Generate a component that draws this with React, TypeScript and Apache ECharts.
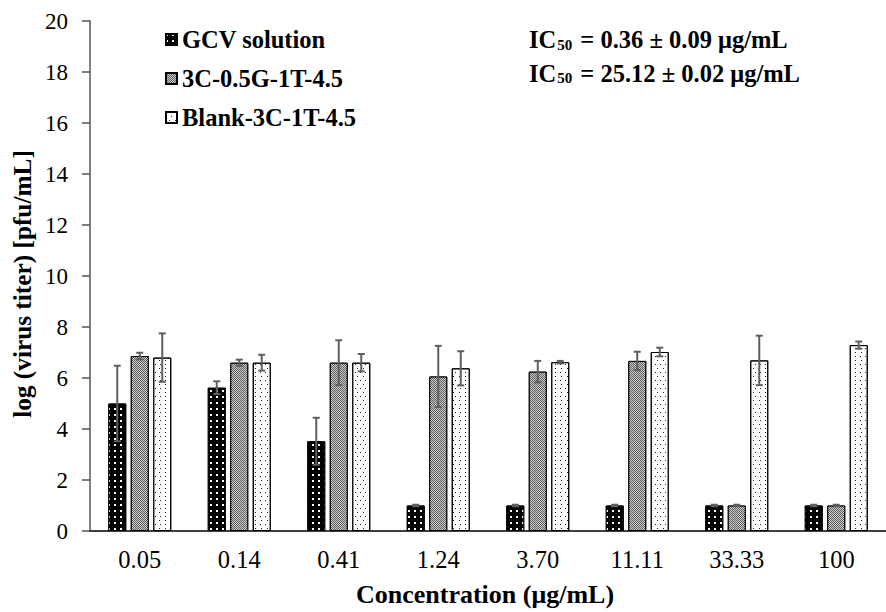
import React, { useEffect, useRef } from 'react';
import * as echarts from 'echarts';

const categories = ['0.05', '0.14', '0.41', '1.24', '3.70', '11.11', '33.33', '100'];
const seriesNames = ['GCV solution', '3C-0.5G-1T-4.5', 'Blank-3C-1T-4.5'];
const gcvValues = [5.0, 5.62, 3.52, 1.0, 1.0, 1.0, 1.0, 1.0];
const gcvErrors = [1.48, 0.25, 0.92, 0.03, 0.03, 0.03, 0.03, 0.03];
const cgValues = [6.86, 6.6, 6.6, 6.06, 6.25, 6.67, 1.0, 1.0];
const cgErrors = [0.13, 0.12, 0.88, 1.2, 0.42, 0.36, 0.03, 0.03];
const blankValues = [6.8, 6.6, 6.6, 6.38, 6.62, 7.02, 6.69, 7.29];
const blankErrors = [0.95, 0.31, 0.34, 0.67, 0.05, 0.17, 0.97, 0.14];
const ic50Lines = [
  { sub: '50', rest: ' = 0.36 ± 0.09 μg/mL' },
  { sub: '50', rest: ' = 25.12 ± 0.02 μg/mL' },
];
const xTitle = 'Concentration (μg/mL)';
const yTitle = 'log (virus titer) [pfu/mL]';

const FONT = "'Liberation Serif', 'Times New Roman', Times, serif";
const BAR_W = 18;
const BAR_GAP = 4.5;
const ERR_COLOR = '#5f5f5f';

const decals = [
  { symbol: 'rect', symbolSize: 1, color: '#ffffff', dashArrayX: [1.5, 3.5], dashArrayY: [1.5, 3.5] },
  { symbol: 'rect', symbolSize: 1, color: '#d0d0d0', dashArrayX: [[1, 1], [0, 1, 1, 0]], dashArrayY: [1, 0] },
  { symbol: 'rect', symbolSize: 1, color: '#222222', dashArrayX: [[1, 4], [0, 2.5, 1, 1.5]], dashArrayY: [1, 3] },
];
const fills = ['#000000', '#5a5a5a', '#ffffff'];
const allValues = [gcvValues, cgValues, blankValues];
const allErrors = [gcvErrors, cgErrors, blankErrors];

export default function App() {
  const ref = useRef<HTMLDivElement>(null);
  useEffect(() => {
    if (!ref.current) return;
    const chart = echarts.init(ref.current, null, { renderer: 'svg' });

    const barSeries = seriesNames.map((name, k) => ({
      name,
      type: 'bar',
      data: allValues[k],
      barWidth: BAR_W,
      barGap: '25%',
      itemStyle: {
        color: fills[k],
        borderColor: '#000',
        borderWidth: 1,
        decal: decals[k],
      },
      z: 2,
    }));

    const errSeries = seriesNames.map((_, k) => ({
      type: 'custom',
      silent: true,
      z: 10,
      encode: { x: 0, y: 1 },
      data: allValues[k].map((v, i) => [i, v, allErrors[k][i]]),
      renderItem: (params: any, api: any) => {
        const i = api.value(0);
        const v = api.value(1);
        const e = api.value(2);
        const top = api.coord([i, v + e]);
        const bot = api.coord([i, v - e]);
        const x = top[0] + (k - 1) * (BAR_W + BAR_GAP);
        const cap = 3.5;
        const st = { stroke: ERR_COLOR, lineWidth: 2 };
        return {
          type: 'group',
          children: [
            { type: 'line', shape: { x1: x, y1: top[1], x2: x, y2: bot[1] }, style: st },
            { type: 'line', shape: { x1: x - cap, y1: top[1], x2: x + cap, y2: top[1] }, style: st },
            { type: 'line', shape: { x1: x - cap, y1: bot[1], x2: x + cap, y2: bot[1] }, style: st },
          ],
        };
      },
    }));

    const rich = {
      a: { fontFamily: FONT, fontSize: 24.5, fontWeight: 'bold', color: '#000' },
      b: { fontFamily: FONT, fontSize: 15, fontWeight: 'bold', color: '#000', verticalAlign: 'bottom', padding: [0, 2, 0, 1] },
    };

    chart.setOption({
      animation: false,
      backgroundColor: '#ffffff',
      textStyle: { fontFamily: FONT },
      grid: { left: 90, top: 21, bottom: 78, width: 809, containLabel: false },
      legend: {
        data: seriesNames,
        orient: 'vertical',
        left: 160,
        top: 22,
        itemWidth: 11,
        itemHeight: 11,
        itemGap: 14,
        icon: 'rect',
        selectedMode: false,
        textStyle: { fontFamily: FONT, fontSize: 24.5, fontWeight: 'bold', color: '#000', lineHeight: 24, padding: [0, 0, 0, 0] },
      },
      xAxis: {
        type: 'category',
        data: categories,
        axisLine: { lineStyle: { color: '#000', width: 1.5 } },
        axisTick: { show: false },
        axisLabel: { fontFamily: FONT, fontSize: 24.5, color: '#000', margin: 16 },
        name: xTitle,
        nameLocation: 'middle',
        nameGap: 50,
        nameTextStyle: { fontFamily: FONT, fontSize: 26, fontWeight: 'bold', color: '#000', padding: [0, 6, 0, 0] },
        splitLine: { show: false },
      },
      yAxis: {
        type: 'value',
        min: 0,
        max: 20,
        interval: 2,
        axisLine: { show: true, lineStyle: { color: '#555', width: 1.5 } },
        axisTick: { show: true, length: 8, lineStyle: { color: '#555', width: 1.5 } },
        axisLabel: { fontFamily: FONT, fontSize: 23, color: '#000', margin: 22 },
        splitLine: { show: false },
        name: yTitle,
        nameLocation: 'middle',
        nameGap: 53,
        nameTextStyle: { fontFamily: FONT, fontSize: 25.3, fontWeight: 'bold', color: '#000', padding: [0, 16, 0, 0] },
      },
      graphic: ic50Lines.map((ln, i) => ({
        type: 'text',
        left: 529,
        top: 27 + i * 33.5,
        style: {
          text: `{a|IC}{b|${ln.sub}}{a|${ln.rest}}`,
          rich,
        },
      })),
      series: [...barSeries, ...errSeries],
    } as any);

    return () => chart.dispose();
  }, []);

  return (
    <div
      ref={ref}
      style={{ position: 'fixed', left: 0, top: 0, width: 886, height: 612, background: '#fff' }}
    />
  );
}
